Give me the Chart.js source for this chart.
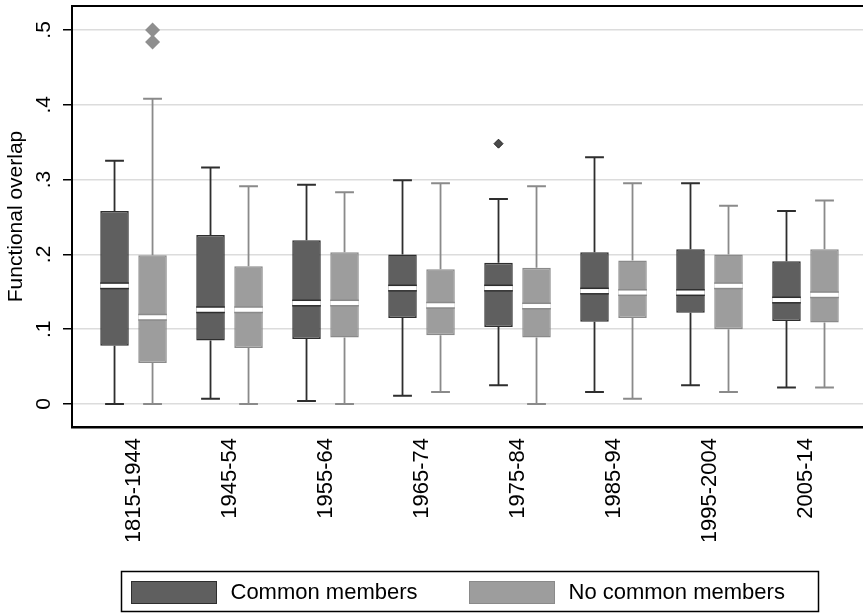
<!DOCTYPE html>
<html>
<head>
<meta charset="utf-8">
<script src="https://cdn.jsdelivr.net/npm/chart.js@4.4.0/dist/chart.umd.min.js"></script>
<style>
    html, body { margin: 0; padding: 0; background: #fff; }
    #wrap { width: 863px; height: 613px; }
</style>
</head>
<body>
<div id="wrap"><canvas id="overlap"></canvas></div>
<script>
//Data
const periods = ['1815-1944', '1945-54', '1955-64', '1965-74', '1975-84', '1985-94', '1995-2004', '2005-14']
const yTicks = [0, 0.1, 0.2, 0.3, 0.4, 0.5]

//Common members
const commonMin = [0, 0.007, 0.004, 0.011, 0.025, 0.016, 0.025, 0.022]
const commonQ1 = [0.078, 0.085, 0.087, 0.115, 0.103, 0.110, 0.122, 0.111]
const commonMed = [0.158, 0.126, 0.135, 0.155, 0.155, 0.151, 0.149, 0.139]
const commonQ3 = [0.258, 0.226, 0.219, 0.200, 0.189, 0.203, 0.207, 0.191]
const commonMax = [0.325, 0.316, 0.293, 0.299, 0.274, 0.330, 0.295, 0.258]
const commonOut = [[], [], [], [], [0.348], [], [], []]

//No common members
const noCommonMin = [0, 0, 0, 0.016, 0, 0.007, 0.016, 0.022]
const noCommonQ1 = [0.055, 0.075, 0.089, 0.092, 0.089, 0.115, 0.100, 0.109]
const noCommonMed = [0.116, 0.126, 0.135, 0.132, 0.131, 0.149, 0.158, 0.146]
const noCommonQ3 = [0.199, 0.184, 0.203, 0.180, 0.182, 0.192, 0.200, 0.207]
const noCommonMax = [0.408, 0.291, 0.283, 0.295, 0.291, 0.295, 0.265, 0.272]
const noCommonOut = [[0.5, 0.484], [], [], [], [], [], [], []]

//Extra stats for each series (whiskers, median, outliers)
const series = [
    { min: commonMin, med: commonMed, max: commonMax, out: commonOut, fill: '#5f5f5f', line: '#2e2e2e', dot: 4.5 },
    { min: noCommonMin, med: noCommonMed, max: noCommonMax, out: noCommonOut, fill: '#9d9d9d', line: '#8a8a8a', dot: 7.5 }
]

const font = 'Liberation Sans, Arial, sans-serif'

//Box plot pieces drawn on top of the floating bars
const boxPlugin = {
    id: 'boxPlugin',
    beforeDatasetsDraw(chart) {
        const ctx = chart.ctx
        const y = chart.scales.y
        ctx.save()
        series.forEach((s, d) => {
            chart.getDatasetMeta(d).data.forEach((bar, i) => {
                const cap = bar.width * 0.33
                const ds = chart.data.datasets[d].data[i].y
                ctx.strokeStyle = s.line
                ctx.lineWidth = 1.8
                ctx.beginPath()
                ctx.moveTo(bar.x, y.getPixelForValue(s.max[i]))
                ctx.lineTo(bar.x, y.getPixelForValue(ds[1]))
                ctx.moveTo(bar.x, y.getPixelForValue(ds[0]))
                ctx.lineTo(bar.x, y.getPixelForValue(s.min[i]))
                ctx.stroke()
                ctx.lineWidth = 2
                ctx.beginPath()
                ctx.moveTo(bar.x - cap, y.getPixelForValue(s.max[i]))
                ctx.lineTo(bar.x + cap, y.getPixelForValue(s.max[i]))
                ctx.moveTo(bar.x - cap, y.getPixelForValue(s.min[i]))
                ctx.lineTo(bar.x + cap, y.getPixelForValue(s.min[i]))
                ctx.stroke()
            })
        })
        ctx.restore()
    },
    afterDatasetsDraw(chart) {
        const ctx = chart.ctx
        const y = chart.scales.y
        ctx.save()
        series.forEach((s, d) => {
            chart.getDatasetMeta(d).data.forEach((bar, i) => {
                const py = y.getPixelForValue(s.med[i])
                const left = bar.x - bar.width / 2
                ctx.fillStyle = s.line
                ctx.fillRect(left, py - 3.5, bar.width, 7)
                ctx.fillStyle = '#fff'
                ctx.fillRect(left, py - 2, bar.width, 4)
                s.out[i].forEach(v => {
                    const oy = y.getPixelForValue(v)
                    const r = s.dot
                    ctx.fillStyle = d === 0 ? '#4a4a4a' : '#8f8f8f'
                    ctx.beginPath()
                    ctx.moveTo(bar.x, oy - r)
                    ctx.lineTo(bar.x + r, oy)
                    ctx.lineTo(bar.x, oy + r)
                    ctx.lineTo(bar.x - r, oy)
                    ctx.closePath()
                    ctx.fill()
                    if (d === 0) {
                        ctx.strokeStyle = '#222'
                        ctx.lineWidth = 1
                        ctx.stroke()
                    }
                })
            })
        })
        ctx.restore()
    },
    afterDraw(chart) {
        const ctx = chart.ctx
        const area = chart.chartArea
        const y = chart.scales.y
        ctx.save()

        //Top line of the frame
        ctx.strokeStyle = '#000'
        ctx.lineWidth = 2
        ctx.beginPath()
        ctx.moveTo(area.left - 1, area.top)
        ctx.lineTo(area.right, area.top)
        ctx.stroke()

        //Y labels, rotated like Stata does
        ctx.fillStyle = '#000'
        ctx.font = '21px ' + font
        ctx.textAlign = 'center'
        ctx.textBaseline = 'middle'
        y.ticks.forEach(t => {
            const txt = t.value === 0 ? '0' : '.' + Math.round(t.value * 10)
            ctx.save()
            ctx.translate(area.left - 28, y.getPixelForValue(t.value))
            ctx.rotate(-Math.PI / 2)
            ctx.fillText(txt, 0, 0)
            ctx.restore()
        })

        //Legend
        ctx.strokeStyle = '#000'
        ctx.lineWidth = 1.5
        ctx.strokeRect(121.5, 571.5, 697, 40)
        ctx.font = '22px ' + font
        ctx.textAlign = 'left'
        const itemX = [131.5, 469.5]
        chart.data.datasets.forEach((ds, d) => {
            ctx.fillStyle = series[d].fill
            ctx.fillRect(itemX[d], 581.5, 85, 22)
            ctx.strokeStyle = series[d].line
            ctx.lineWidth = 1
            ctx.strokeRect(itemX[d], 581.5, 85, 22)
            ctx.fillStyle = '#000'
            ctx.fillText(ds.label, itemX[d] + 99, 593)
        })
        ctx.restore()
    }
}

let ctxBox = document.getElementById('overlap')
let boxChart = new Chart(ctxBox, {
    type: 'bar',
    data: {
        datasets: [{
            label: 'Common members',
            data: periods.map((p, i) => ({ x: i + 1, y: [commonQ1[i], commonQ3[i]] })),
            backgroundColor: series[0].fill,
            borderColor: series[0].line,
            borderWidth: 1.5,
            borderSkipped: false
        }, {
            label: 'No common members',
            data: periods.map((p, i) => ({ x: i + 1, y: [noCommonQ1[i], noCommonQ3[i]] })),
            backgroundColor: series[1].fill,
            borderColor: series[1].line,
            borderWidth: 1.5,
            borderSkipped: false
        }]
    },
    options: {
        responsive: true,
        maintainAspectRatio: false,
        animation: false,
        categoryPercentage: 0.792,
        barPercentage: 0.75,
        layout: { padding: { top: 6, right: 0, bottom: 72, left: 0 } },
        plugins: {
            legend: { display: false },
            tooltip: { enabled: false }
        },
        scales: {
            x: {
                type: 'linear',
                min: 0.359,
                max: 8.599,
                offset: false,
                afterBuildTicks: axis => { axis.ticks = periods.map((p, i) => ({ value: i + 1 })) },
                afterFit: scale => { scale.height = 114 },
                grid: { display: false, drawTicks: false, offset: false },
                border: { display: true, color: '#000', width: 2.5 },
                ticks: {
                    autoSkip: false,
                    minRotation: 90,
                    maxRotation: 90,
                    padding: 11,
                    color: '#000',
                    font: { family: font, size: 22 },
                    callback: (v, i) => periods[i]
                }
            },
            y: {
                min: -0.0307,
                max: 0.532,
                afterBuildTicks: axis => { axis.ticks = yTicks.map(v => ({ value: v })) },
                afterFit: scale => { scale.width = 72 },
                grid: { color: '#dcdcdc', lineWidth: 1.5, tickColor: '#000', tickLength: 9, tickWidth: 1.5 },
                border: { display: true, color: '#000', width: 2 },
                ticks: { display: false },
                title: {
                    display: true,
                    text: 'Functional overlap',
                    color: '#000',
                    font: { family: font, size: 21 },
                    padding: { top: 4, bottom: 4 }
                }
            }
        }
    },
    plugins: [boxPlugin]
})
</script>
</body>
</html>
